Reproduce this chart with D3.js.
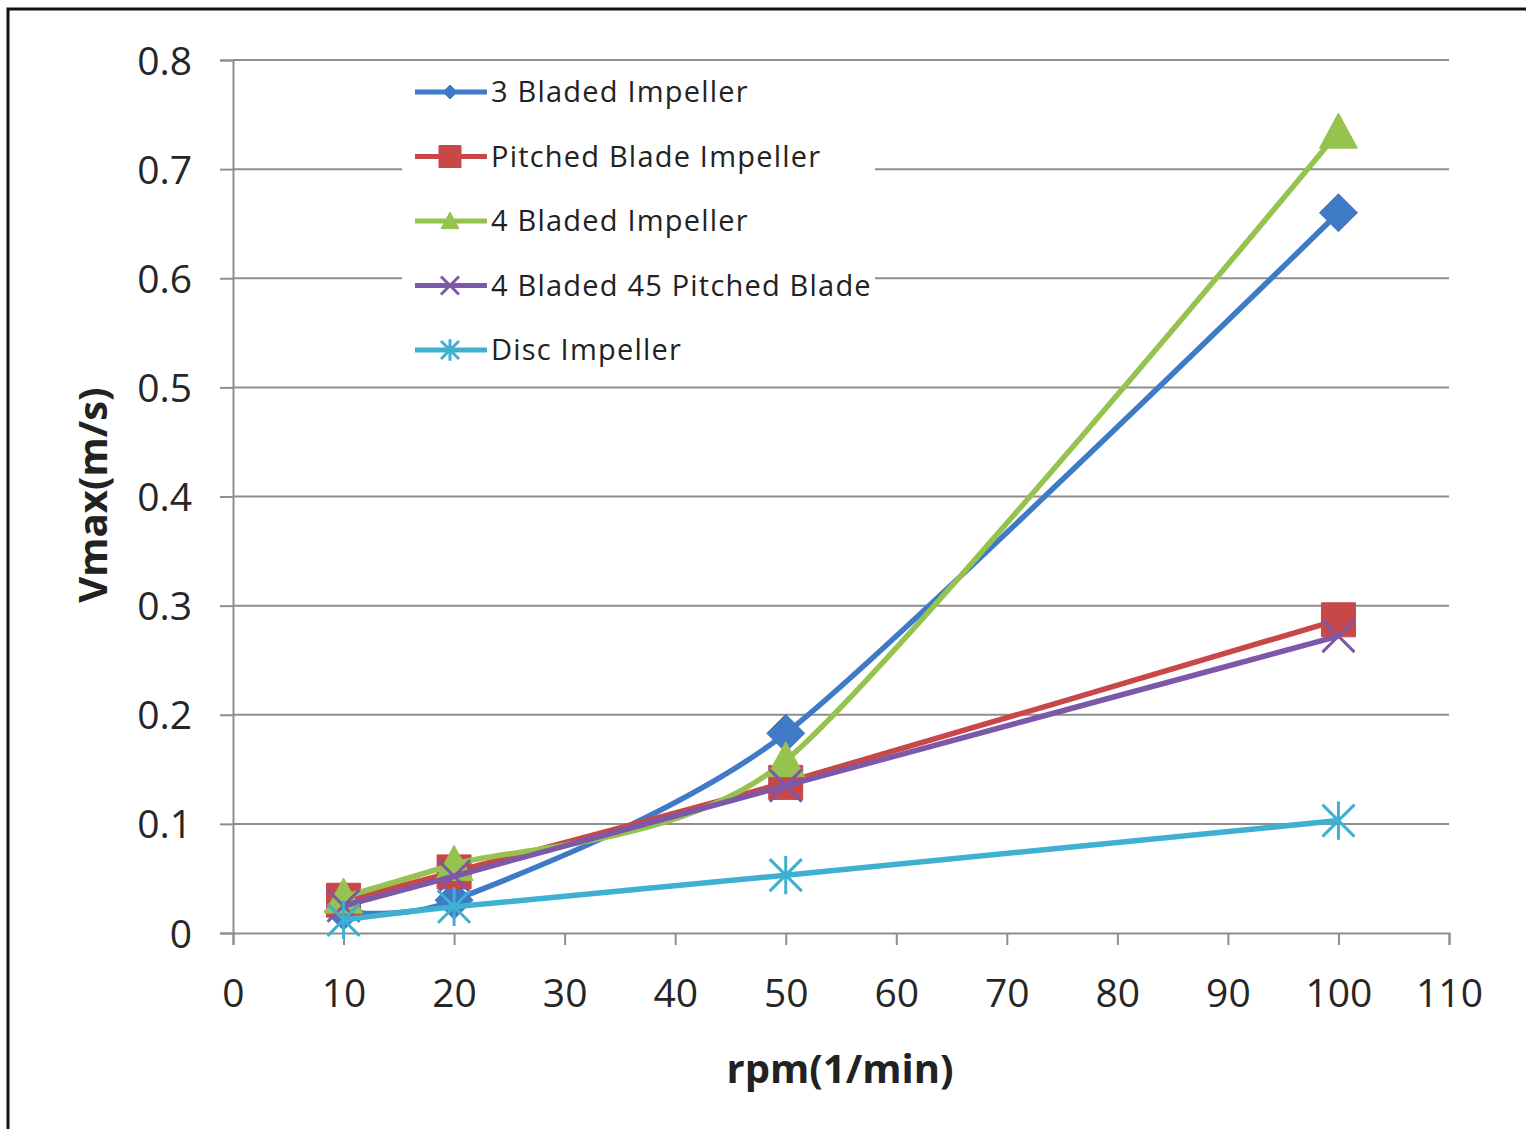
<!DOCTYPE html>
<html lang="en">
  <head>
    <meta charset="utf-8">
    <title>Vmax vs rpm</title>
    <script src="https://d3js.org/d3.v7.js"></script>
    <style>
    body {margin: 0; background: white;}
    text {font-family: "Open Sans", sans-serif;}
    </style>
  </head>
  <body>
  <script>

  var rpm = [10, 20, 50, 100];
  var names = ["3 Bladed Impeller", "Pitched Blade Impeller", "4 Bladed Impeller",
               "4 Bladed 45 Pitched Blade", "Disc Impeller"];
  var threeBladed = [0.020, 0.030, 0.183, 0.660];
  var pitchedBlade = [0.030, 0.056, 0.138, 0.287];
  var fourBladed = [0.033, 0.063, 0.158, 0.734];
  var fourBladed45 = [0.025, 0.052, 0.135, 0.272];
  var disc = [0.012, 0.024, 0.053, 0.103];
  var xTicks = [0, 10, 20, 30, 40, 50, 60, 70, 80, 90, 100, 110];
  var yTicks = [0, 0.1, 0.2, 0.3, 0.4, 0.5, 0.6, 0.7, 0.8];

  var colors = ["#3f7ac6", "#c8484a", "#96c24f", "#7d58a8", "#3fb0d0"];
  var markers = ["diamond", "square", "triangle", "x", "star"];
  var seriesValues = [threeBladed, pitchedBlade, fourBladed, fourBladed45, disc];

  var w = 1526, h = 1129;
  var svg = d3.select("body").append("svg")
      .attr("width", w)
      .attr("height", h);

  // frame (only top and left edges visible)
  svg.append("path")
     .attr("d", "M8,1129 L8,9 L1526,9")
     .attr("fill", "none")
     .attr("stroke", "#111")
     .attr("stroke-width", 3);

  var xScale = d3.scaleLinear().domain([0, 110]).range([233, 1449]);
  var yScale = d3.scaleLinear().domain([0, 0.8]).range([933, 60]);

  // gridlines
  svg.selectAll(".grid")
     .data(yTicks.slice(1))
     .join("line")
     .attr("class", "grid")
     .attr("x1", xScale(0))
     .attr("x2", xScale(110))
     .attr("y1", d => yScale(d))
     .attr("y2", d => yScale(d))
     .attr("stroke", "#8e8e8e")
     .attr("stroke-width", 2);

  // y axis
  var yAxis = d3.axisLeft(yScale)
      .tickValues(yTicks)
      .tickSize(13)
      .tickPadding(28)
      .tickFormat(d => d === 0 ? "0" : d3.format(".1f")(d));
  var gy = svg.append("g")
     .attr("transform", `translate(${xScale(0)},0)`)
     .call(yAxis);

  // x axis
  var xAxis = d3.axisBottom(xScale)
      .tickValues(xTicks)
      .tickSize(12)
      .tickPadding(34);
  var gx = svg.append("g")
     .attr("transform", `translate(0,${yScale(0)})`)
     .call(xAxis);

  [gx, gy].forEach(function(g) {
    g.select(".domain").attr("stroke", "#8e8e8e").attr("stroke-width", 2);
    g.selectAll(".tick line").attr("stroke", "#8e8e8e").attr("stroke-width", 2);
    g.selectAll(".tick text")
     .attr("fill", "#262626")
     .style("font-size", "39px")
     .style("font-family", "'Open Sans', sans-serif");
  });
  gy.selectAll(".tick text").attr("dy", "0.36em");

  svg.append("text")
     .attr("x", 840)
     .attr("y", 1083)
     .attr("text-anchor", "middle")
     .style("font-size", "40px")
     .style("font-weight", "bold")
     .attr("fill", "#222")
     .text("rpm(1/min)");

  svg.append("text")
     .attr("transform", "translate(107,495) rotate(-90)")
     .attr("text-anchor", "middle")
     .style("font-size", "40px")
     .style("font-weight", "bold")
     .attr("fill", "#222")
     .text("Vmax(m/s)");

  function markerPath(type, r) {
    if (type === "diamond") {
      return `M0,${-r}L${r},0L0,${r}L${-r},0Z`;
    } else if (type === "square") {
      return `M${-r},${-r}H${r}V${r}H${-r}Z`;
    } else if (type === "triangle") {
      return `M0,${-r}L${r},${r * 0.85}L${-r},${r * 0.85}Z`;
    } else if (type === "x") {
      return `M${-r},${-r}L${r},${r}M${r},${-r}L${-r},${r}`;
    } else {
      return `M${-r},${-r}L${r},${r}M${r},${-r}L${-r},${r}M0,${-r * 1.2}L0,${r * 1.2}`;
    }
  }

  function drawMarker(g, type, color, x, y, r) {
    var filled = (type === "diamond" || type === "square" || type === "triangle");
    g.append("path")
     .attr("transform", `translate(${x},${y})`)
     .attr("d", markerPath(type, r))
     .attr("fill", filled ? color : "none")
     .attr("stroke", color)
     .attr("stroke-width", filled ? 1 : 3);
  }

  var line = d3.line()
      .x(d => xScale(d[0]))
      .y(d => yScale(d[1]))
      .curve(d3.curveCardinal.tension(0.3));

  var bigR = [19, 17, 19, 16, 16];

  seriesValues.forEach(function(vals, i) {
    var pts = rpm.map((r, j) => [r, vals[j]]);
    var g = svg.append("g");
    g.append("path")
     .datum(pts)
     .attr("d", line)
     .attr("fill", "none")
     .attr("stroke", colors[i])
     .attr("stroke-width", 5.5)
     .attr("stroke-linejoin", "round");
    pts.forEach(function(p) {
      drawMarker(g, markers[i], colors[i], xScale(p[0]), yScale(p[1]), bigR[i]);
    });
  });

  // legend
  var legend = svg.append("g");
  legend.append("rect")
     .attr("x", 402)
     .attr("y", 64)
     .attr("width", 473)
     .attr("height", 311)
     .attr("fill", "white");

  var smallR = [7, 11, 9, 9, 9];
  names.forEach(function(name, i) {
    var y = 92 + i * 64.5;
    legend.append("line")
       .attr("x1", 415).attr("x2", 487)
       .attr("y1", y).attr("y2", y)
       .attr("stroke", colors[i])
       .attr("stroke-width", 5);
    drawMarker(legend, markers[i], colors[i], 450, y, smallR[i]);
    legend.append("text")
       .attr("x", 491)
       .attr("y", y + 10)
       .style("font-size", "29px")
       .style("letter-spacing", "1.2px")
       .attr("fill", "#222")
       .text(name);
  });

  </script>
  </body>
</html>
